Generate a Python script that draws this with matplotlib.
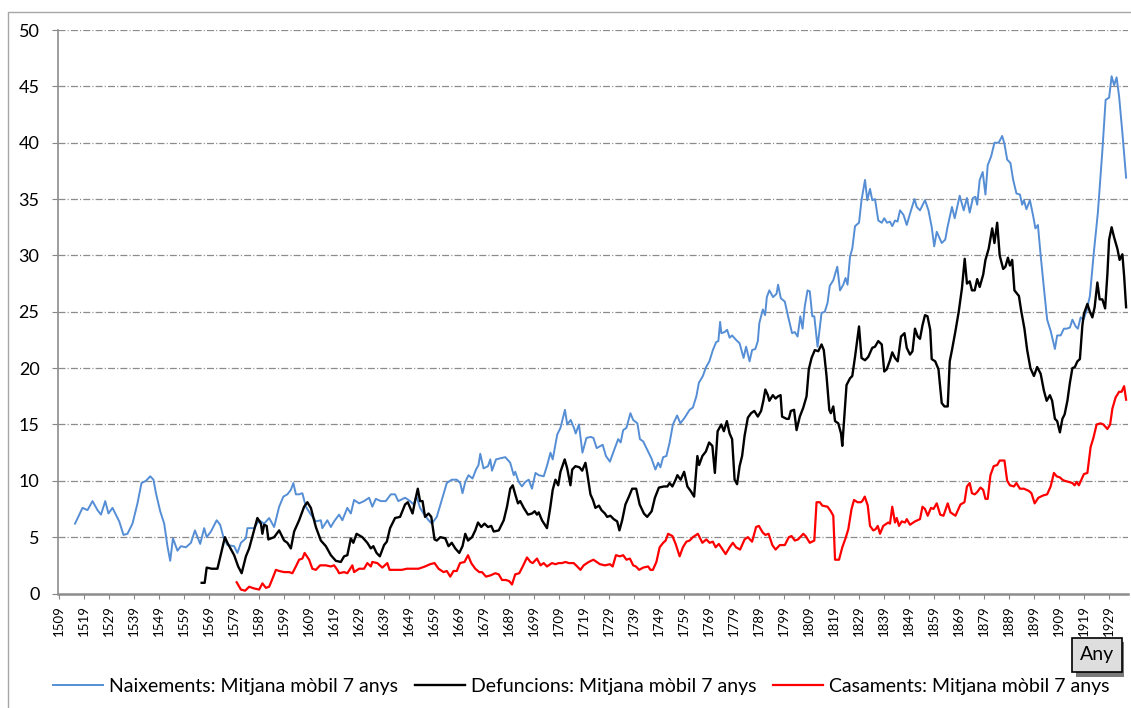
import matplotlib.pyplot as plt
from matplotlib.patches import Rectangle

plt.rcParams['font.family'] = ['Lato', 'DejaVu Sans']

# Naixements (moving average 7 years)
naix_years = [1515.3, 1518.3, 1520.3, 1522.3, 1524.3, 1525.7, 1527.4, 1528.7, 1530.3, 1533.0,
              1534.7, 1536.3, 1538.3, 1540.3, 1541.9, 1543.7, 1545.4, 1546.7, 1547.7, 1549.4,
              1551.0, 1552.3, 1553.4, 1554.5, 1556.3, 1557.7, 1559.7, 1561.7, 1563.3, 1565.4,
              1567.0, 1568.0, 1569.7, 1572.0, 1573.4, 1574.7, 1576.3, 1579.0, 1580.3, 1581.7,
              1583.7, 1584.3, 1587.0, 1589.0, 1591.0, 1593.0, 1595.0, 1597.0, 1598.7, 1600.3,
              1601.7, 1602.7, 1603.7, 1605.0, 1606.3, 1607.7, 1609.7, 1611.7, 1613.7, 1614.3,
              1616.3, 1617.7, 1619.0, 1621.0, 1622.3, 1624.3, 1625.7, 1627.0, 1629.0, 1631.0,
              1633.0, 1634.3, 1635.7, 1637.7, 1639.7, 1641.7, 1643.4, 1644.7, 1647.4, 1649.4,
              1650.8, 1652.0, 1653.4, 1654.8, 1656.8, 1658.1, 1660.1, 1662.1, 1664.1, 1666.1,
              1668.1, 1669.5, 1670.4, 1671.5, 1672.8, 1674.4, 1675.8, 1676.8, 1677.5, 1678.8,
              1680.6, 1681.5, 1682.2, 1683.8, 1685.5, 1687.5, 1689.5, 1690.9, 1691.5, 1692.9,
              1694.2, 1695.5, 1696.9, 1698.2, 1699.6, 1700.9, 1702.9, 1704.3, 1705.6, 1706.5,
              1708.3, 1709.6, 1711.4, 1712.3, 1713.7, 1715.0, 1715.7, 1717.0, 1718.4, 1720.0,
              1721.7, 1722.8, 1724.1, 1726.5, 1727.8, 1729.4, 1730.7, 1732.7, 1733.7, 1734.7,
              1736.0, 1737.6, 1738.7, 1740.4, 1741.4, 1742.7, 1744.7, 1746.0, 1747.6, 1748.7,
              1749.6, 1750.7, 1752.0, 1753.3, 1754.6, 1756.3, 1757.6, 1759.3, 1761.3, 1762.6,
              1764.0, 1765.0, 1766.6, 1767.9, 1769.2, 1770.6, 1771.9, 1772.8, 1773.5, 1774.0,
              1775.3, 1776.3, 1777.3, 1778.3, 1779.9, 1781.3, 1782.9, 1783.9, 1785.3, 1786.3,
              1787.6, 1788.6, 1789.2, 1790.6, 1791.5, 1792.2, 1793.2, 1794.7, 1796.1, 1796.7,
              1797.8, 1799.4, 1800.7, 1802.3, 1803.4, 1804.5, 1805.6, 1806.5, 1807.4, 1808.5,
              1809.4, 1810.4, 1811.2, 1812.5, 1814.1, 1815.4, 1816.5, 1817.4, 1818.8, 1820.4,
              1821.5, 1822.8, 1823.7, 1824.5, 1825.5, 1826.4, 1827.5, 1829.1, 1830.1, 1831.5,
              1832.4, 1833.5, 1834.4, 1835.5, 1836.8, 1838.2, 1839.2, 1840.3, 1841.5, 1842.4,
              1843.5, 1844.5, 1845.5, 1846.9, 1848.2, 1849.5, 1851.3, 1852.2, 1853.5, 1855.5,
              1856.9, 1858.2, 1859.2, 1860.2, 1862.2, 1863.6, 1864.6, 1866.3, 1867.4, 1869.4,
              1871.0, 1872.3, 1873.4, 1874.7, 1875.7, 1876.4, 1877.4, 1878.6, 1879.7, 1880.6,
              1882.0, 1883.3, 1885.0, 1886.4, 1887.3, 1888.4, 1889.7, 1890.8, 1892.1, 1893.5,
              1894.4, 1895.1, 1896.1, 1897.5, 1898.8, 1899.7, 1900.7, 1901.8, 1903.1, 1904.4,
              1905.8, 1907.5, 1908.4, 1909.8, 1911.1, 1912.2, 1913.5, 1914.5, 1915.8, 1916.7,
              1917.8, 1918.9, 1920.2, 1921.5, 1923.1, 1924.7, 1926.5, 1927.8, 1929.2, 1930.2,
              1931.2, 1932.2, 1933.2, 1934.5, 1936.0]
naix_vals = [6.2, 7.6, 7.4, 8.2, 7.4, 7.0, 8.2, 7.1, 7.6, 6.4,
             5.2, 5.3, 6.2, 8.0, 9.8, 10.0, 10.4, 10.1, 8.9, 7.3,
             6.2, 4.2, 2.9, 4.9, 3.8, 4.2, 4.1, 4.5, 5.6, 4.4,
             5.8, 5.0, 5.5, 6.5, 6.1, 5.0, 4.3, 4.2, 3.6, 4.5,
             4.9, 5.8, 5.8, 6.5, 6.2, 6.7, 5.9, 7.7, 8.6, 8.8,
             9.2, 9.8, 8.8, 8.8, 8.9, 7.7, 7.0, 6.4, 6.5, 5.8,
             6.5, 5.9, 6.4, 7.0, 6.5, 7.6, 7.1, 8.3, 8.0, 8.2,
             8.5, 7.7, 8.4, 8.2, 8.2, 8.8, 8.8, 8.2, 8.5, 8.2,
             7.9, 8.6, 7.6, 7.1, 6.5, 6.2, 6.8, 8.3, 9.8, 10.1,
             10.1, 9.8, 8.9, 9.9, 10.5, 10.2, 11.0, 11.4, 12.4, 11.1,
             11.3, 11.9, 10.9, 11.9, 12.0, 12.1, 11.6, 10.5, 10.8, 9.9,
             9.5, 9.9, 10.1, 9.3, 10.7, 10.5, 10.4, 11.4, 12.5, 11.9,
             14.1, 14.7, 16.3, 15.0, 15.4, 14.7, 14.2, 15.0, 12.5, 13.8,
             13.9, 13.8, 12.9, 13.2, 12.2, 11.7, 12.5, 13.7, 13.4, 14.5,
             14.7, 16.0, 15.4, 15.1, 13.7, 13.5, 12.6, 12.0, 11.0, 11.6,
             11.2, 12.1, 12.2, 13.4, 15.0, 15.8, 15.1, 15.6, 16.3, 16.5,
             17.5, 18.7, 19.3, 20.1, 20.6, 21.6, 22.3, 22.4, 24.1, 23.1,
             23.2, 23.4, 22.7, 22.9, 22.5, 22.2, 20.9, 21.9, 20.6, 21.6,
             21.7, 22.4, 24.0, 25.2, 24.7, 26.3, 26.9, 26.3, 26.6, 27.4,
             26.2, 25.9, 24.6, 23.1, 23.2, 22.8, 24.6, 23.5, 25.5, 26.9,
             26.8, 24.6, 24.6, 21.9, 24.9, 25.0, 25.8, 27.3, 27.8, 29.0,
             26.9, 27.4, 28.0, 27.4, 29.9, 30.6, 32.6, 32.9, 34.9, 36.7,
             34.9, 35.9, 34.9, 35.0, 33.1, 32.9, 33.3, 32.9, 33.0, 32.6,
             33.1, 33.0, 34.0, 33.6, 32.7, 33.7, 35.0, 34.3, 34.0, 34.9,
             34.0, 32.5, 30.8, 32.1, 31.1, 31.4, 32.6, 34.3, 33.3, 35.3,
             34.0, 35.1, 33.8, 35.1, 35.2, 34.5, 36.7, 37.4, 35.4, 38.0,
             38.8, 40.0, 40.0, 40.6, 39.9, 38.5, 38.2, 36.7, 35.5, 35.4,
             34.5, 34.9, 34.1, 34.9, 33.5, 32.4, 32.7, 30.0, 27.1, 24.3,
             23.3, 21.7, 22.9, 22.9, 23.5, 23.5, 23.6, 24.3, 23.7, 23.5,
             24.5, 24.3, 25.1, 26.4, 30.3, 33.8, 39.3, 43.8, 44.0, 45.9,
             45.1, 45.8, 44.1, 40.9, 36.9]

# Defuncions
def_years = [1566.0, 1567.2, 1568.0, 1570.0, 1572.3, 1575.3, 1576.3, 1579.0, 1580.6, 1582.0,
             1583.7, 1585.0, 1588.3, 1589.7, 1590.3, 1591.0, 1592.0, 1592.7, 1595.0, 1597.0,
             1599.0, 1600.3, 1601.7, 1603.0, 1605.0, 1607.0, 1608.3, 1609.7, 1611.7, 1613.7,
             1615.7, 1617.7, 1619.7, 1621.7, 1623.0, 1624.3, 1625.7, 1626.7, 1628.0, 1630.3,
             1632.3, 1633.7, 1634.7, 1636.0, 1637.3, 1639.0, 1640.1, 1641.4, 1643.4, 1645.4,
             1647.4, 1648.5, 1650.4, 1651.4, 1652.5, 1653.4, 1654.4, 1655.4, 1656.8, 1657.9,
             1659.2, 1660.1, 1661.5, 1663.5, 1664.8, 1666.1, 1667.5, 1669.1, 1670.4, 1671.5,
             1672.6, 1674.2, 1675.5, 1676.6, 1677.9, 1679.2, 1680.6, 1681.9, 1682.9, 1684.9,
             1686.9, 1688.2, 1689.5, 1690.5, 1691.5, 1692.6, 1693.5, 1694.9, 1696.6, 1698.2,
             1699.3, 1700.2, 1700.9, 1702.2, 1704.2, 1705.5, 1706.5, 1707.6, 1708.7, 1709.6,
             1711.3, 1712.3, 1713.6, 1714.3, 1715.6, 1717.2, 1718.3, 1719.6, 1720.3, 1721.6,
             1722.6, 1723.6, 1725.0, 1726.0, 1727.4, 1728.3, 1729.6, 1730.9, 1732.3, 1733.2,
             1734.3, 1735.6, 1737.0, 1738.3, 1739.9, 1741.3, 1743.0, 1744.3, 1746.1, 1747.4,
             1749.0, 1751.0, 1752.4, 1753.3, 1754.4, 1755.7, 1756.4, 1757.7, 1759.1, 1760.4,
             1761.7, 1763.1, 1764.4, 1765.1, 1766.4, 1767.8, 1769.1, 1770.4, 1771.4, 1772.5,
             1774.0, 1775.0, 1776.2, 1777.3, 1778.3, 1779.3, 1780.3, 1781.3, 1782.3, 1783.3,
             1784.6, 1785.9, 1787.2, 1788.6, 1789.9, 1790.8, 1791.6, 1792.6, 1793.2, 1794.6,
             1795.7, 1796.7, 1797.7, 1798.3, 1800.1, 1801.0, 1801.8, 1803.1, 1804.1, 1805.4,
             1806.8, 1808.1, 1809.0, 1810.1, 1811.4, 1812.8, 1814.1, 1815.0, 1816.1, 1817.2,
             1817.8, 1818.8, 1819.5, 1820.8, 1821.9, 1822.4, 1823.2, 1824.1, 1825.5, 1826.4,
             1827.5, 1829.1, 1830.1, 1831.5, 1832.8, 1834.4, 1835.5, 1836.8, 1838.2, 1839.2,
             1840.2, 1841.5, 1842.4, 1843.5, 1844.6, 1845.9, 1847.3, 1848.2, 1849.5, 1850.5,
             1851.5, 1852.6, 1853.5, 1854.5, 1855.5, 1856.5, 1857.6, 1858.2, 1859.6, 1860.9,
             1862.2, 1863.3, 1864.6, 1865.4, 1866.3, 1867.7, 1869.0, 1870.3, 1871.4, 1872.3,
             1873.4, 1874.3, 1875.4, 1876.4, 1877.4, 1878.8, 1879.7, 1881.0, 1882.4, 1883.3,
             1884.4, 1885.4, 1886.8, 1887.7, 1888.7, 1889.5, 1890.4, 1891.3, 1893.1, 1894.0,
             1895.3, 1896.4, 1897.7, 1899.1, 1900.4, 1901.8, 1903.1, 1904.2, 1905.5, 1906.4,
             1907.5, 1908.4, 1909.5, 1910.5, 1911.4, 1912.5, 1913.5, 1914.5, 1915.5, 1916.5,
             1917.5, 1918.5, 1919.1, 1920.5, 1921.5, 1922.5, 1923.4, 1924.5, 1925.4, 1926.5,
             1927.6, 1928.5, 1929.2, 1930.2, 1931.2, 1932.5, 1933.4, 1934.5, 1935.2, 1936.0]
def_vals = [0.95, 0.95, 2.3, 2.2, 2.2, 5.0, 4.5, 3.4, 2.4, 1.8,
            3.3, 4.0, 6.7, 6.2, 5.3, 6.1, 6.0, 4.8, 5.0, 5.6,
            4.7, 4.5, 4.0, 5.5, 6.5, 7.7, 8.1, 7.6, 5.9, 4.7,
            4.2, 3.4, 2.9, 2.8, 3.3, 3.4, 4.9, 4.5, 5.3, 5.0,
            4.5, 4.0, 4.2, 3.6, 3.3, 4.3, 4.6, 5.8, 6.7, 6.8,
            7.9, 8.1, 7.1, 8.2, 9.3, 8.2, 8.2, 6.8, 7.1, 6.8,
            4.8, 4.7, 5.0, 4.9, 4.2, 4.5, 4.0, 3.6, 4.2, 5.3,
            4.7, 5.0, 5.6, 6.3, 5.9, 6.2, 5.9, 6.0, 5.5, 5.6,
            6.5, 7.7, 9.3, 9.6, 8.8, 8.0, 8.2, 7.6, 7.0, 7.1,
            7.3, 7.0, 7.2, 6.5, 5.8, 7.6, 9.2, 10.1, 9.6, 10.8,
            11.9, 11.1, 9.6, 11.0, 11.3, 11.2, 10.9, 11.6, 10.7, 8.8,
            8.3, 7.6, 7.8, 7.4, 7.1, 6.8, 6.9, 6.6, 6.4, 5.6,
            6.5, 7.9, 8.6, 9.3, 9.3, 7.9, 7.1, 6.8, 7.3, 8.5,
            9.4, 9.5, 9.5, 9.8, 9.5, 10.1, 10.5, 10.1, 10.8, 9.5,
            9.1, 8.6, 12.2, 11.4, 12.2, 12.6, 13.4, 13.1, 10.7, 14.4,
            15.0, 14.4, 15.3, 14.2, 13.7, 10.1, 9.7, 11.3, 12.2, 14.0,
            15.6, 16.0, 16.2, 15.7, 16.2, 17.1, 18.1, 17.6, 17.1, 17.6,
            17.3, 17.5, 17.6, 15.7, 15.5, 15.5, 16.2, 16.3, 14.5, 15.7,
            16.5, 17.5, 19.9, 20.9, 21.6, 21.5, 22.1, 21.6, 19.3, 16.3,
            16.0, 16.6, 15.3, 15.1, 14.2, 13.1, 15.7, 18.5, 19.1, 19.3,
            21.0, 23.7, 20.9, 20.7, 21.0, 21.8, 21.9, 22.4, 22.1, 19.7,
            19.9, 20.7, 21.4, 20.9, 20.6, 22.8, 23.1, 21.8, 21.2, 21.5,
            23.5, 22.8, 22.6, 23.8, 24.7, 24.6, 23.4, 20.8, 20.6, 19.9,
            16.9, 16.6, 16.6, 20.6, 21.6, 23.3, 25.0, 27.1, 29.7, 27.5,
            27.7, 26.9, 26.9, 27.9, 27.2, 28.3, 29.6, 30.6, 32.4, 31.1,
            32.9, 30.0, 28.8, 29.0, 29.8, 29.1, 29.6, 26.9, 26.4, 25.1,
            23.5, 21.6, 20.0, 19.3, 20.1, 19.5, 18.0, 17.1, 17.6, 17.1,
            15.5, 15.3, 14.3, 15.5, 15.9, 17.1, 18.7, 20.0, 20.1, 20.6,
            20.8, 23.8, 24.8, 25.7, 25.0, 24.5, 25.4, 27.6, 26.1, 26.1,
            25.3, 28.3, 31.4, 32.5, 31.6, 30.6, 29.6, 30.1, 28.2, 25.4]

# Casaments
cas_years = [1580.0, 1581.7, 1583.4, 1585.0, 1587.0, 1589.0, 1590.3, 1591.7, 1593.0, 1594.3,
             1595.7, 1597.0, 1599.0, 1601.0, 1602.3, 1603.7, 1605.0, 1606.3, 1607.2, 1609.0,
             1610.3, 1611.7, 1613.4, 1615.7, 1617.7, 1619.0, 1620.3, 1621.0, 1623.0, 1624.3,
             1626.3, 1627.0, 1629.0, 1631.0, 1632.3, 1633.7, 1634.3, 1636.3, 1638.3, 1640.3,
             1641.2, 1644.1, 1646.1, 1648.1, 1650.1, 1652.8, 1655.4, 1657.4, 1659.2, 1660.8,
             1662.8, 1664.1, 1665.5, 1666.8, 1668.1, 1669.4, 1671.2, 1672.6, 1673.9, 1675.5,
             1677.1, 1678.2, 1679.8, 1681.5, 1683.5, 1684.9, 1686.2, 1687.8, 1689.1, 1690.2,
             1691.5, 1693.1, 1694.5, 1696.2, 1697.6, 1698.5, 1700.2, 1701.6, 1702.9, 1704.2,
             1706.2, 1707.6, 1708.9, 1710.2, 1711.6, 1712.9, 1714.9, 1716.3, 1717.6, 1718.9,
             1720.9, 1722.8, 1724.1, 1725.4, 1727.4, 1729.4, 1730.5, 1731.8, 1733.4, 1734.7,
             1736.0, 1737.4, 1738.7, 1739.8, 1741.1, 1742.7, 1744.7, 1745.6, 1746.6, 1748.0,
             1749.3, 1750.7, 1751.7, 1752.7, 1754.4, 1755.7, 1757.3, 1758.6, 1760.0, 1761.3,
             1762.6, 1764.6, 1766.4, 1768.0, 1769.3, 1770.6, 1771.7, 1773.0, 1773.9, 1775.7,
             1777.3, 1778.6, 1779.9, 1781.5, 1783.3, 1784.6, 1786.3, 1787.9, 1789.0, 1790.6,
             1791.6, 1792.9, 1794.4, 1795.7, 1797.4, 1799.4, 1801.0, 1802.1, 1803.4, 1804.7,
             1806.8, 1807.7, 1809.4, 1811.2, 1812.1, 1813.4, 1814.4, 1816.5, 1817.8, 1818.8,
             1819.5, 1821.1, 1822.4, 1823.7, 1824.8, 1826.1, 1827.1, 1828.5, 1829.8, 1830.4,
             1831.4, 1832.6, 1833.5, 1834.8, 1835.7, 1836.6, 1837.5, 1838.8, 1840.8, 1841.5,
             1842.4, 1843.5, 1844.2, 1845.1, 1846.2, 1847.5, 1848.2, 1849.5, 1851.5, 1853.5,
             1854.5, 1855.5, 1856.6, 1857.9, 1858.9, 1860.2, 1861.6, 1862.9, 1864.6, 1865.7,
             1867.7, 1869.7, 1871.3, 1872.3, 1873.4, 1874.3, 1875.4, 1876.4, 1877.7, 1878.8,
             1879.7, 1880.6, 1881.7, 1883.0, 1884.4, 1885.4, 1887.3, 1888.4, 1889.5, 1891.1,
             1892.1, 1893.5, 1895.1, 1897.1, 1898.1, 1899.4, 1900.9, 1902.8, 1904.4, 1905.8,
             1907.1, 1908.2, 1909.5, 1910.5, 1911.4, 1913.1, 1914.5, 1915.4, 1916.2, 1917.1,
             1918.5, 1919.1, 1920.5, 1921.8, 1922.9, 1924.2, 1925.8, 1926.9, 1928.5, 1929.6,
             1930.5, 1931.8, 1933.2, 1934.2, 1935.2, 1936.0]
cas_vals = [1.0, 0.35, 0.25, 0.6, 0.45, 0.35, 0.9, 0.5, 0.6, 1.3,
            2.1, 2.0, 1.9, 1.9, 1.8, 2.4, 3.0, 3.1, 3.6, 3.0,
            2.2, 2.1, 2.5, 2.5, 2.4, 2.5, 2.1, 1.8, 1.9, 1.8,
            2.5, 1.9, 2.2, 2.2, 2.7, 2.4, 2.8, 2.7, 2.3, 2.7,
            2.1, 2.1, 2.1, 2.2, 2.2, 2.2, 2.4, 2.6, 2.7, 2.2,
            1.9, 2.0, 1.5, 2.0, 2.0, 2.7, 2.8, 3.4, 2.7, 2.2,
            1.9, 1.9, 1.5, 1.6, 1.8, 1.7, 1.2, 1.2, 1.1, 0.8,
            1.7, 1.8, 2.4, 3.2, 2.8, 2.7, 3.1, 2.5, 2.7, 2.4,
            2.7, 2.6, 2.7, 2.7, 2.8, 2.7, 2.7, 2.4, 2.1, 2.5,
            2.8, 3.0, 2.8, 2.6, 2.5, 2.6, 2.4, 3.4, 3.3, 3.4,
            3.0, 3.1, 2.5, 2.4, 2.1, 2.3, 2.4, 2.1, 2.1, 2.8,
            4.1, 4.5, 4.7, 5.3, 5.1, 4.4, 3.3, 4.1, 4.6, 4.7,
            5.0, 5.3, 4.5, 4.8, 4.5, 4.6, 4.1, 4.4, 4.1, 3.5,
            4.1, 4.5, 4.1, 3.9, 4.8, 5.0, 4.6, 5.9, 6.0, 5.4,
            5.2, 5.3, 4.3, 3.9, 4.3, 4.3, 5.0, 5.1, 4.7, 4.8,
            5.3, 5.1, 4.5, 4.7, 8.1, 8.1, 7.8, 7.7, 7.3, 6.9,
            3.0, 3.0, 4.1, 4.9, 5.7, 7.5, 8.3, 8.1, 8.1, 8.2,
            8.6, 7.8, 6.0, 5.6, 5.7, 6.0, 5.3, 6.0, 6.3, 6.2,
            7.7, 6.3, 6.7, 6.0, 6.4, 6.3, 6.6, 6.1, 6.4, 6.6,
            7.7, 7.5, 6.9, 7.6, 7.5, 8.0, 7.0, 6.9, 8.0, 7.2,
            6.9, 7.9, 8.1, 9.5, 9.8, 8.9, 8.8, 9.0, 9.4, 9.2,
            8.4, 8.4, 10.5, 11.3, 11.4, 11.8, 11.8, 10.0, 9.6, 9.5,
            9.8, 9.3, 9.3, 9.1, 8.9, 8.0, 8.5, 8.7, 8.8, 9.5,
            10.7, 10.4, 10.3, 10.1, 10.0, 9.9, 9.8, 9.6, 9.9, 9.6,
            10.3, 10.6, 10.7, 13.0, 13.8, 15.0, 15.1, 15.0, 14.6, 15.0,
            16.4, 17.4, 17.9, 17.9, 18.4, 17.2]

tick_years = list(range(1509, 1930, 10))

fig = plt.figure(figsize=(11.31, 7.08), dpi=100)
ax = fig.add_axes([0.0513, 0.1617, 0.9457, 0.7959])

ax.plot(naix_years, naix_vals, color='#558ED5', lw=1.4,
        label='Naixements: Mitjana mòbil 7 anys')
ax.plot(def_years, def_vals, color='black', lw=1.7,
        label='Defuncions: Mitjana mòbil 7 anys')
ax.plot(cas_years, cas_vals, color='#FF0000', lw=1.6,
        label='Casaments: Mitjana mòbil 7 anys')

ax.set_xlim(1508.5, 1936.6)
ax.set_ylim(0, 50)
ax.set_yticks(range(0, 51, 5))
ax.set_xticks(tick_years)
ax.set_xticklabels([str(y) for y in tick_years], rotation=90, fontsize=9.5)
ax.tick_params(axis='y', labelsize=13, length=4.3, pad=9, color='#868686')
ax.tick_params(axis='x', length=3.6, pad=5, color='#868686')

for v in range(5, 51, 5):
    ax.axhline(v, color='#8c8c8c', lw=0.9, ls=(0, (5.6, 1.7, 0.9, 1.7)), zorder=0)

for s in ['top', 'right']:
    ax.spines[s].set_visible(False)
ax.spines['left'].set_color('#8c8c8c')
ax.spines['left'].set_linewidth(1.2)
ax.spines['bottom'].set_color('#8c8c8c')
ax.spines['bottom'].set_linewidth(1.8)

fig.legend(loc='center', bbox_to_anchor=(0.514, 0.030), ncol=3, frameon=False,
           fontsize=14, handlelength=2.57, columnspacing=0.87, handletextpad=0.3,
           borderpad=0, borderaxespad=0)

# "Any" axis title button, with a small shadow behind it
fig.patches.append(Rectangle((1076 / 1131, 1 - 677 / 708), 48 / 1131, 35 / 708,
                             transform=fig.transFigure, facecolor='#7a7a7a',
                             edgecolor='none', zorder=1))
fig.text(0.970, 0.075, 'Any', fontsize=14, ha='center', va='center', zorder=3,
         bbox=dict(boxstyle='square,pad=0.42', facecolor='#dedede', edgecolor='black', lw=1.2))

fig.patches.append(Rectangle((8 / 1131, -0.05), 1.2, 1.033, transform=fig.transFigure,
                             fill=False, edgecolor='#a6a6a6', lw=1))

fig.savefig('out.png', dpi=100)
